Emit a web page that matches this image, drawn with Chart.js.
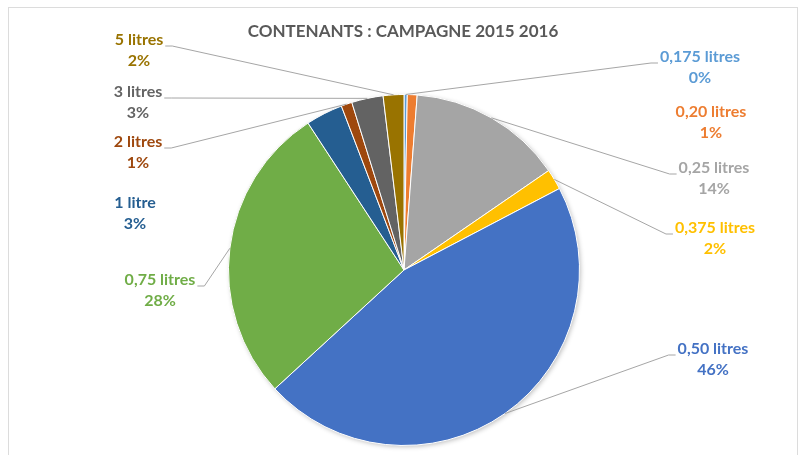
<!DOCTYPE html>
<html>
<head>
<meta charset="utf-8">
<script src="https://cdn.jsdelivr.net/npm/chart.js@4/dist/chart.umd.min.js"></script>
<style>
  html, body { margin: 0; padding: 0; background: #fff; }
  #wrap { width: 799px; height: 455px; position: relative; }
</style>
</head>
<body>
<div id="wrap"><canvas id="c" width="799" height="455"></canvas></div>
<script>
// Container sizes and their share of the 2015-2016 campaign
const categories = ['0,175 litres', '0,20 litres', '0,25 litres', '0,375 litres', '0,50 litres',
                    '0,75 litres', '1 litre', '2 litres', '3 litres', '5 litres'];
const shares = [0.3, 0.9, 14.2, 1.9, 45.8, 27.6, 3.4, 1.0, 2.9, 1.9];
const sliceColors = ['#5B9BD5', '#ED7D31', '#A5A5A5', '#FFC000', '#4472C4',
                     '#70AD47', '#255E91', '#9E480E', '#636363', '#997300'];
const chartTitle = 'CONTENANTS : CAMPAGNE 2015 2016';

// Label placement: centre x, first-line y, leader side ('L' = line leaves from the left of the text)
const labelLayout = [
  { x: 700, y: 57,  leader: 'L' },
  { x: 711, y: 112, leader: null },
  { x: 714, y: 168, leader: 'L' },
  { x: 715, y: 228, leader: 'L' },
  { x: 713, y: 349, leader: 'L' },
  { x: 160, y: 280, leader: 'R' },
  { x: 135, y: 203, leader: null },
  { x: 138, y: 142, leader: 'R' },
  { x: 138, y: 92,  leader: 'R' },
  { x: 139, y: 40,  leader: 'R' }
];

const total = shares.reduce((a, b) => a + b, 0);
const pctText = v => Math.round(v / total * 100) + '%';
const FONT = 'Lato, "Open Sans", sans-serif';

const framePlugin = {
  id: 'frame',
  beforeDraw(chart) {
    const ctx = chart.ctx;
    ctx.save();
    ctx.fillStyle = '#ffffff';
    ctx.fillRect(0, 0, chart.width, chart.height);
    ctx.strokeStyle = '#dcdcdc';
    ctx.lineWidth = 1;
    ctx.strokeRect(8.5, 7.5, 789, 460);
    ctx.restore();
  },
  beforeDatasetsDraw(chart) {
    // soft drop shadow under the whole pie
    const arc = chart.getDatasetMeta(0).data[0];
    if (!arc) return;
    const ctx = chart.ctx;
    ctx.save();
    ctx.shadowColor = 'rgba(0,0,0,0.28)';
    ctx.shadowBlur = 5;
    ctx.shadowOffsetX = 1.5;
    ctx.shadowOffsetY = 1.5;
    ctx.fillStyle = '#ffffff';
    ctx.beginPath();
    ctx.arc(arc.x, arc.y, arc.outerRadius - 0.5, 0, Math.PI * 2);
    ctx.fill();
    ctx.restore();
  },
  afterDraw(chart) {
    const ctx = chart.ctx;
    const meta = chart.getDatasetMeta(0);
    ctx.save();
    // title
    ctx.font = 'bold 17px ' + FONT;
    ctx.fillStyle = '#595959';
    ctx.textAlign = 'center';
    ctx.textBaseline = 'middle';
    ctx.fillText(chartTitle, 403, 32);

    // data labels with leader lines
    ctx.font = 'bold 16px ' + FONT;
    categories.forEach((name, i) => {
      const L = labelLayout[i];
      const arc = meta.data[i];
      const w = ctx.measureText(name).width;
      if (L.leader) {
        const mid = (arc.startAngle + arc.endAngle) / 2;
        const ex = arc.x + Math.cos(mid) * arc.outerRadius;
        const ey = arc.y + Math.sin(mid) * arc.outerRadius;
        const ly = L.y + 6;
        let sx, hx;
        if (L.leader === 'L') { sx = L.x - w / 2 - 2; hx = sx - 7; }
        else { sx = L.x + w / 2 + 2; hx = sx + 7; }
        ctx.strokeStyle = '#a6a6a6';
        ctx.lineWidth = 1;
        ctx.beginPath();
        ctx.moveTo(sx, ly);
        ctx.lineTo(hx, ly);
        ctx.lineTo(ex, ey);
        ctx.stroke();
      }
      ctx.fillStyle = sliceColors[i];
      ctx.textAlign = 'center';
      ctx.fillText(name, L.x, L.y);
      ctx.fillText(pctText(shares[i]), L.x, L.y + 21);
    });
    ctx.restore();
  }
};

new Chart(document.getElementById('c'), {
  type: 'pie',
  data: {
    labels: categories,
    datasets: [{
      data: shares,
      backgroundColor: sliceColors,
      borderColor: '#ffffff',
      borderWidth: 1
    }]
  },
  options: {
    responsive: false,
    animation: false,
    events: [],
    layout: { padding: { top: 94, bottom: 9, left: 9, right: 0 } },
    plugins: {
      legend: { display: false },
      title: { display: false },
      tooltip: { enabled: false }
    }
  },
  plugins: [framePlugin]
});
</script>
</body>
</html>
